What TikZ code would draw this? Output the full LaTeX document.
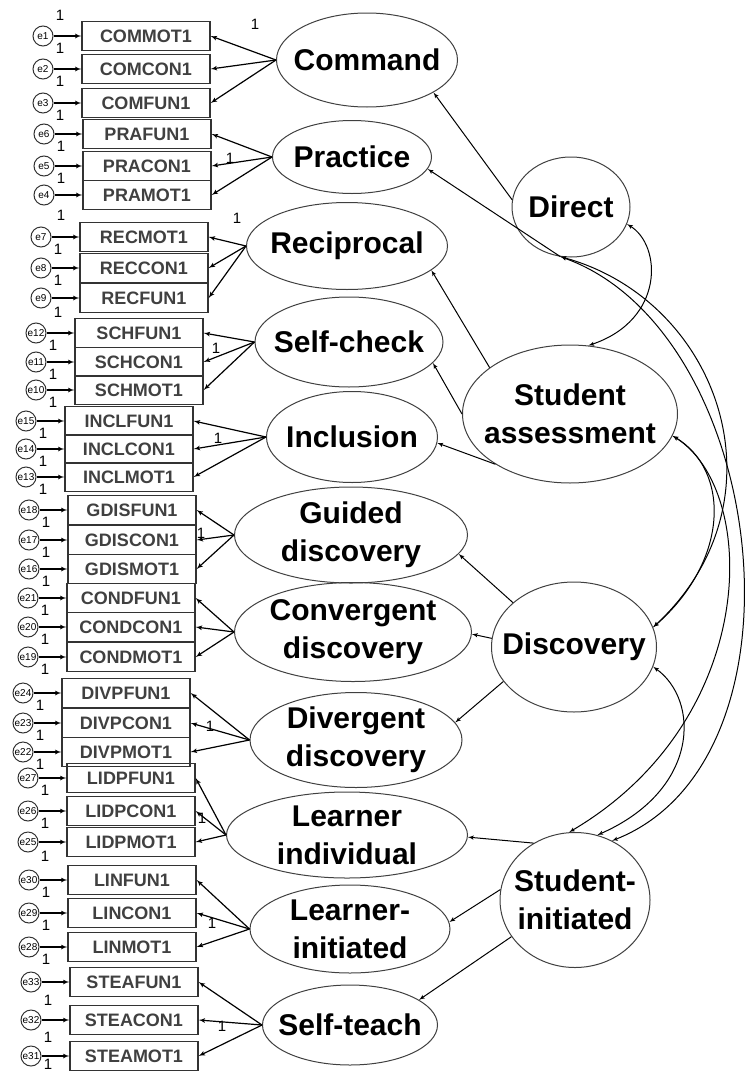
\documentclass[tikz,border=0pt]{standalone}
\usepackage{fontspec}
\setmainfont{Liberation Sans}
\usetikzlibrary{arrows,shapes.geometric}
\tikzstyle{latent}=[ellipse,draw=black!75,line width=1pt,inner sep=0pt]
\tikzstyle{latent text}=[font=\bfseries\fontsize{30}{38}\selectfont,align=center,inner sep=0pt]
\tikzstyle{observed}=[rectangle,draw=black!80,line width=1.3pt,minimum width=128pt,minimum height=29pt,inner sep=0pt,text=black!75,font=\bfseries\fontsize{18}{18}\selectfont]
\tikzstyle{error}=[circle,draw=black!80,line width=1pt,minimum size=20pt,inner sep=0pt,font=\fontsize{10}{10}\selectfont]
\tikzstyle{loading} = [draw,line width=1.2pt,->,>=latex']
\tikzstyle{regress} = [draw,line width=1pt,->,>=latex']
\tikzstyle{covar} = [draw,line width=1pt,<->,>=latex']
\tikzstyle{weight} = [font=\fontsize{15}{15}\selectfont,inner sep=0pt]

\begin{document}
\begin{tikzpicture}[x=1pt,y=-1pt]
\useasboundingbox (0,0) rectangle (750,1071);
% First we draw the first-order factors
\foreach \pos/\name/\w/\h/\txt in {{(367,60)/Command/181/94/Command}, {(352,157)/Practice/159/73/Practice},
  {(347,246)/Reciprocal/201/87/Reciprocal}, {(349,342)/Selfcheck/188/90/Self-check},
  {(352,437)/Inclusion/171/91/Inclusion}, {(351,535)/Guided/233/96/Guided\\discovery},
  {(353,632)/Convergent/237/99/Convergent\\discovery}, {(356,740)/Divergent/212/95/Divergent\\discovery},
  {(347,835)/Individual/241/86/Learner\\individual}, {(350,929)/Initiated/200/88/Learner-\\initiated},
  {(350,1025)/Selfteach/175/80/Self-teach}}
\node[latent,minimum width=\w,minimum height=\h,label={[latent text]center:\txt}] (\name) at \pos {};

% Then the second-order factors
\foreach \pos/\name/\w/\h/\txt in {{(571,207)/Direct/118/100/Direct}, {(570,414)/Assessment/215/138/Student\\assessment},
  {(574,647)/Discovery/165/130/Discovery}, {(575,900)/Student/150/135/Student-\\initiated}}
\node[latent,minimum width=\w,minimum height=\h,label={[latent text]center:\txt}] (\name) at \pos {};

% Indicators with their error terms
\foreach \y/\xl/\name/\e/\dy in {36/82/COMMOT1/e1/12, 69/82/COMCON1/e2/12, 103/82/COMFUN1/e3/12,
  134/83/PRAFUN1/e6/12, 166/83/PRACON1/e5/12, 195/83/PRAMOT1/e4/20,
  237/80/RECMOT1/e7/12, 268/80/RECCON1/e8/12, 298/80/RECFUN1/e9/14,
  333/75/SCHFUN1/e12/12, 362/75/SCHCON1/e11/12, 390/75/SCHMOT1/e10/12,
  421/65/INCLFUN1/e15/12, 449/65/INCLCON1/e14/12, 477/65/INCLMOT1/e13/12,
  510/68/GDISFUN1/e18/12, 540/68/GDISCON1/e17/12, 569/68/GDISMOT1/e16/12,
  598/67/CONDFUN1/e21/12, 627/67/CONDCON1/e20/12, 657/67/CONDMOT1/e19/12,
  693/62/DIVPFUN1/e24/12, 723/62/DIVPCON1/e23/12, 752/62/DIVPMOT1/e22/12,
  778/67/LIDPFUN1/e27/12, 811/67/LIDPCON1/e26/12, 842/67/LIDPMOT1/e25/14,
  880/68/LINFUN1/e30/12, 913/68/LINCON1/e29/12, 947/68/LINMOT1/e28/12,
  982/70/STEAFUN1/e33/18, 1020/70/STEACON1/e32/17, 1056/70/STEAMOT1/e31/8}
{
  \node[observed] (\name) at (\xl+64,\y) {\name};
  \node[error] (\e) at (\xl-39,\y) {\e};
  \path[loading] (\e) -- (\name);
  \node[weight] (w\e) at (\xl-22,\y+\dy) {1};
}
\node[weight] (a1) at (60,15) {1};

% Connect factors with indicators
\foreach \src/\a/\b/\c in {Command/COMMOT1/COMCON1/COMFUN1, Practice/PRAFUN1/PRACON1/PRAMOT1,
  Reciprocal/RECMOT1/RECCON1/RECFUN1, Selfcheck/SCHFUN1/SCHCON1/SCHMOT1,
  Inclusion/INCLFUN1/INCLCON1/INCLMOT1, Guided/GDISFUN1/GDISCON1/GDISMOT1,
  Convergent/CONDFUN1/CONDCON1/CONDMOT1, Divergent/DIVPFUN1/DIVPCON1/DIVPMOT1,
  Individual/LIDPFUN1/LIDPCON1/LIDPMOT1, Initiated/LINFUN1/LINCON1/LINMOT1,
  Selfteach/STEAFUN1/STEACON1/STEAMOT1}
\foreach \dest in {\a,\b,\c}
\path[loading] (\src.west) -- (\dest.east);

\foreach \pos/\name in {{(255,24)/wCommand}, {(230,158)/wPractice}, {(237,218)/wReciprocal},
  {(216,348)/wSelfcheck}, {(218,438)/wInclusion}, {(201,533)/wGuided}, {(210,726)/wDivergent},
  {(202,818)/wIndividual}, {(212,923)/wInitiated}, {(222,1026)/wSelfteach}}
\node[weight] (\name) at \pos {1};

% Second-order paths
\foreach \source/\dest in {Direct.173/Command.-26, Direct.258/Practice.-9,
  Assessment.150/Reciprocal.-16, Assessment.180/Selfcheck.-14, Assessment.214/Inclusion.-4,
  Discovery.144/Guided.-10, Discovery.174/Convergent.-1, Discovery.206/Divergent.10,
  Student.126/Individual.-1, Student.172/Initiated.4, Student.-150/Selfteach.20}
\path[regress] (\source) -- (\dest);

% Covariances
\foreach \source/\ca/\cb/\dest in {Direct.-17/{(662,245)}/{(665,320)}/Assessment.75,
  Direct.258/{(720,300)}/{(790,500)}/Discovery.14,
  Direct.258/{(768,330)}/{(818,760)}/Student.58,
  Assessment.-12/{(730,470)}/{(730,560)}/Discovery.14,
  Assessment.-12/{(760,490)}/{(760,720)}/Student.95,
  Discovery.-14/{(700,700)}/{(700,790)}/Student.71}
\path[covar] (\source) .. controls \ca and \cb .. (\dest);
\end{tikzpicture}
\end{document}
